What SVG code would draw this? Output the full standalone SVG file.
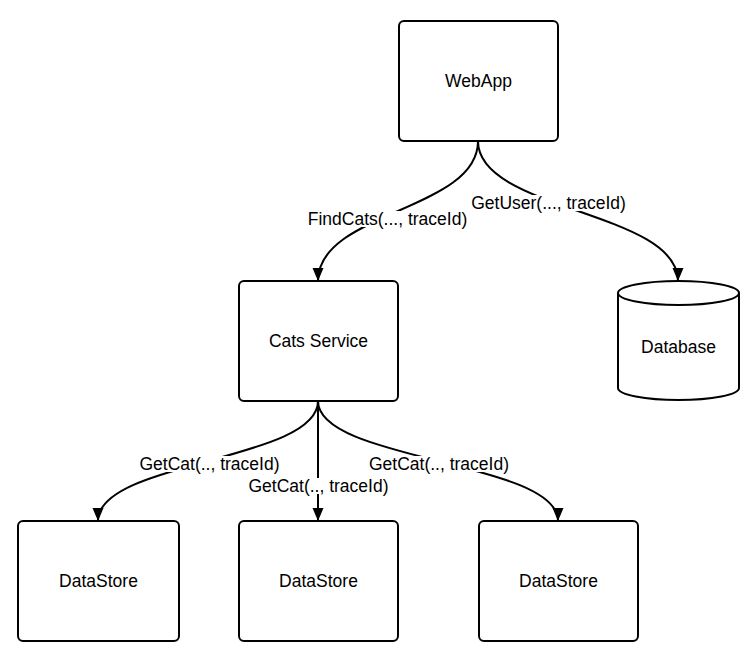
<svg xmlns="http://www.w3.org/2000/svg" width="756" height="659" viewBox="0 0 756 659">
<defs>
<style>
.box{fill:#fff;stroke:#000;stroke-width:2}
.lbl{font-family:"Liberation Sans",Arial,Helvetica,sans-serif;font-size:17.5px;fill:#000;text-anchor:middle}
.edge{fill:none;stroke:#000;stroke-width:2}
.bg{fill:#fff}
</style>
<marker id="arr" markerUnits="userSpaceOnUse" markerWidth="14" markerHeight="12" refX="13" refY="5.5" orient="auto">
<path d="M0,0 L13,5.5 L0,11 Z" fill="#000"/>
</marker>
</defs>
<rect width="756" height="659" fill="#fff"/>
<g id="connectors">
<path class="edge" d="M478,141 C478,211 318,211 318,281" marker-end="url(#arr)"/>
<path class="edge" d="M478,141 C478,211 678,211 678,281" marker-end="url(#arr)"/>
<path class="edge" d="M318,401 C318,461 98,461 98,521" marker-end="url(#arr)"/>
<path class="edge" d="M318,401 L318,521" marker-end="url(#arr)"/>
<path class="edge" d="M318,401 C318,461 558,461 558,521" marker-end="url(#arr)"/>
<g id="edge-labels">
<rect class="bg" x="306" y="211" width="163" height="16"/>
<text class="lbl" x="387.5" y="225">FindCats(..., traceId)</text>
<rect class="bg" x="470" y="195" width="158" height="16"/>
<text class="lbl" x="548.5" y="209">GetUser(..., traceId)</text>
<rect class="bg" x="138" y="456" width="144" height="16"/>
<text class="lbl" x="209.5" y="470">GetCat(.., traceId)</text>
<rect class="bg" x="247" y="478" width="144" height="16"/>
<text class="lbl" x="318.5" y="492">GetCat(.., traceId)</text>
<rect class="bg" x="367" y="456" width="144" height="16"/>
<text class="lbl" x="439" y="470">GetCat(.., traceId)</text>
</g>
</g>
<g id="webapp">
<rect class="box" x="399" y="21" width="159" height="120" rx="5"/>
<text class="lbl" x="478.5" y="87">WebApp</text>
</g>
<g id="cats-service">
<rect class="box" x="239" y="281" width="159" height="120" rx="5"/>
<text class="lbl" x="318.5" y="347">Cats Service</text>
</g>
<g id="database">
<path class="box" d="M618,293 V388 A60.5,12 0 0 0 739,388 V293"/>
<ellipse class="box" cx="678.5" cy="293" rx="60.5" ry="12"/>
<text class="lbl" x="678.5" y="353">Database</text>
</g>
<g id="datastore-1">
<rect class="box" x="18" y="521" width="161" height="120" rx="5"/>
<text class="lbl" x="98.5" y="587">DataStore</text>
</g>
<g id="datastore-2">
<rect class="box" x="239" y="521" width="159" height="120" rx="5"/>
<text class="lbl" x="318.5" y="587">DataStore</text>
</g>
<g id="datastore-3">
<rect class="box" x="479" y="521" width="159" height="120" rx="5"/>
<text class="lbl" x="558.5" y="587">DataStore</text>
</g>
</svg>
